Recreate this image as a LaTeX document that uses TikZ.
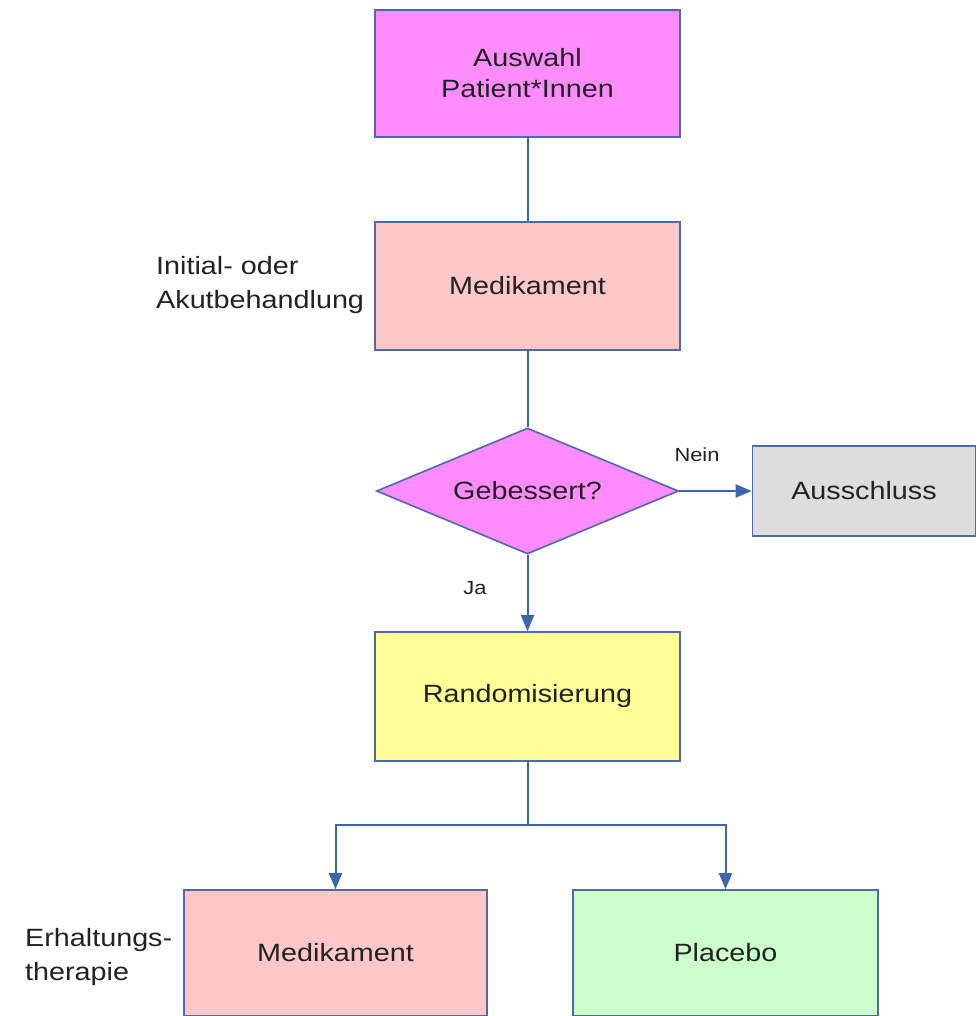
\documentclass[tikz,border=0pt]{standalone}
\usepackage{fontspec}
\setmainfont[FakeStretch=1.15]{Liberation Sans}
\usetikzlibrary{shapes.geometric,arrows.meta}
\definecolor{lnblue}{HTML}{3E66A6}
\definecolor{bdblue}{HTML}{5068A8}
\definecolor{magfill}{HTML}{FF8CFF}
\definecolor{pinkfill}{HTML}{FFC8C8}
\definecolor{yelfill}{HTML}{FFFF99}
\definecolor{grnfill}{HTML}{CCFFCC}
\definecolor{greyfill}{HTML}{DDDDDD}
\definecolor{txt}{HTML}{222222}
\tikzset{
  box/.style={draw=bdblue, line width=1.6pt, rectangle, inner sep=0pt,
    minimum width=305pt, minimum height=127pt, align=center, text=txt,
    font=\fontsize{25}{31}\selectfont},
  dia/.style={draw=bdblue, line width=1.6pt, diamond, aspect=2.4, inner sep=0pt,
    minimum width=302pt, minimum height=126pt, text=txt,
    font=\fontsize{25}{31}\selectfont},
  side/.style={align=left, text=txt, inner sep=0pt,
    font=\fontsize{25}{34}\selectfont},
  small/.style={text=txt, inner sep=0pt, font=\fontsize{19}{23}\selectfont},
  conn/.style={draw=lnblue, line width=2pt},
  arr/.style={conn, -{Triangle[length=16pt,width=13pt]}}
}
\begin{document}
\begin{tikzpicture}[x=1pt,y=-1pt]
\clip (0,0) rectangle (977,1016);
\fill[white] (0,0) rectangle (977,1016);

\node[box, fill=magfill] (sel) at (527.5,73.5) {Auswahl\\Patient*Innen};
\node[box, fill=pinkfill, minimum height=128pt] (med1) at (527.5,286) {Medikament};
\node[dia, fill=magfill] (q) at (527.5,491) {Gebessert?};
\node[box, fill=greyfill, minimum width=223pt, minimum height=90pt] (aus) at (864,491) {Ausschluss};
\node[box, fill=yelfill, minimum height=129pt] (rand) at (527.5,696.5) {Randomisierung};
\node[box, fill=pinkfill, minimum width=303pt, minimum height=126pt] (med2) at (335.5,953) {Medikament};
\node[box, fill=grnfill, minimum width=305pt, minimum height=126pt] (plc) at (725.5,953) {Placebo};

\node[side, anchor=west] (l1) at (156,285) {Initial- oder\\Akutbehandlung};
\node[side, anchor=west] (l2) at (25,957) {Erhaltungs-\\therapie};
\node[small] (nein) at (697,455) {Nein};
\node[small] (ja) at (475,588) {Ja};

\draw[conn] (sel.south) -- (med1.north);
\draw[conn] (med1.south) -- (q.north);
\draw[arr] (q.east) -- (aus.west);
\draw[arr] (q.south) -- (rand.north);
\coordinate (split) at (527.5,825);
\draw[conn] (rand.south) -- (split);
\draw[arr] (split) -| (med2.north);
\draw[arr] (split) -| (plc.north);
\end{tikzpicture}
\end{document}
